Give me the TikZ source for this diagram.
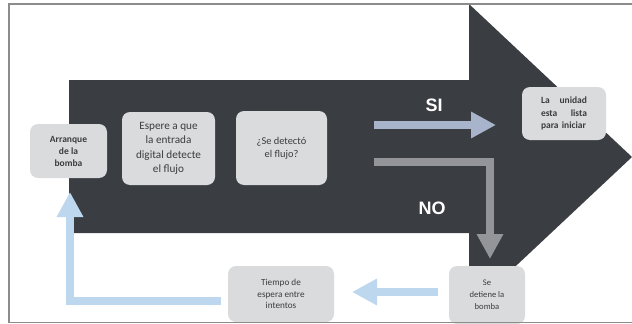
\documentclass[tikz,border=0pt]{standalone}
\usepackage{fontspec}
\setmainfont{Carlito}
\newfontfamily\arialfont{Liberation Sans}
\usetikzlibrary{arrows.meta,positioning}
\definecolor{fondo}{HTML}{3A3D42}
\definecolor{cajagris}{HTML}{DADBDD}
\definecolor{textogris}{HTML}{3C3C3C}
\definecolor{azulgris}{HTML}{A7B4CB}
\definecolor{grisno}{HTML}{939598}
\definecolor{celeste}{HTML}{BDD7EE}
\definecolor{marco}{HTML}{8C8C8C}

\begin{document}
\begin{tikzpicture}[x=1pt, y=-1pt,
	caja/.style={fill=cajagris, rounded corners=8pt, align=center, text=textogris, inner sep=0pt},
	flecha/.style={line width=8pt, -{Triangle[length=25pt,width=25pt]}},
	etiqueta/.style={text=white, font=\arialfont\bfseries\fontsize{18}{20}\selectfont}]
		\useasboundingbox (0,0) rectangle (632,324);
		
		% big arrow
		\fill[fondo] (69,80) -- (469,80) -- (469,4) -- (632,157) -- (469,310) -- (469,233) -- (69,233) -- cycle;
		
		% boxes
		\node[caja, minimum width=77pt, minimum height=54pt, font=\bfseries\fontsize{9.5}{12}\selectfont] (arranque) at (68.5,151) {Arranque\\de la\\bomba};
		\node[caja, minimum width=93pt, minimum height=73pt, font=\fontsize{11.2}{14.5}\selectfont] (espere) at (168.5,148.5) {Espere a que\\la entrada\\digital detecte\\el flujo};
		\node[caja, minimum width=91pt, minimum height=74pt, font=\fontsize{10.4}{13}\selectfont] (detecto) at (281.5,148) {¿Se detectó\\el flujo?};
		\node[caja, minimum width=84pt, minimum height=53pt, font=\bfseries\fontsize{9.5}{12.5}\selectfont, text width=46pt, align=left] (unidad) at (564,113.5) {La\hfill unidad\\esta\hfill lista\\para iniciar};
		\node[caja, minimum width=76pt, minimum height=58pt, font=\fontsize{8.6}{11.8}\selectfont] (detiene) at (487,295) {Se\\detiene la\\bomba};
		\node[caja, minimum width=106pt, minimum height=56pt, font=\fontsize{9.2}{11.3}\selectfont] (tiempo) at (281,294) {Tiempo de\\espera entre\\intentos};
		
		% labels
		\node[etiqueta] (si) at (434,105) {SI};
		\node[etiqueta] (no) at (432,208) {NO};
		
		% free ends of the connectors
		\coordinate (siA) at (374,125);
		\coordinate (siB) at (496,125);
		\coordinate (noA) at (374,162);
		\coordinate (noB) at (490,259);
		\coordinate (esperaA) at (438,292);
		\coordinate (esperaB) at (352,292);
		\coordinate (retA) at (221,301);
		\coordinate (retB) at (70,192);
		
		% connectors
		\draw[flecha, azulgris] (siA) -- (siB);
		\draw[flecha, grisno] (noA) -| (noB);
		\draw[flecha, celeste] (esperaA) -- (esperaB);
		\draw[flecha, celeste] (retA) -| (retB);
		
		% frame
		\draw[marco, line width=1.2pt] (640,4) -- (9,4) -- (9,322.5) -- (640,322.5);
	\end{tikzpicture}
\end{document}
